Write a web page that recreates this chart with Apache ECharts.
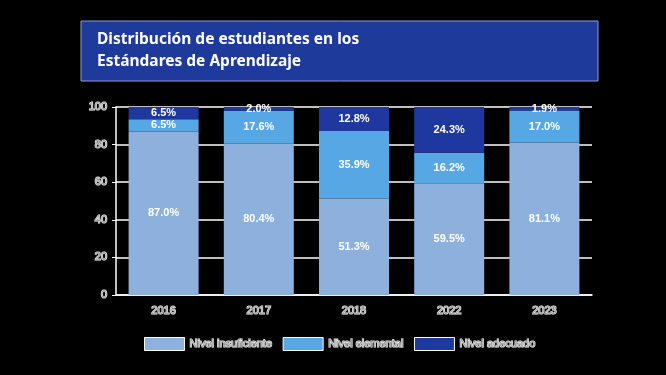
<!DOCTYPE html>
<html>
<head>
<meta charset="utf-8">
<script src="https://cdn.jsdelivr.net/npm/echarts@6/dist/echarts.min.js"></script>
<style>
  html, body { margin: 0; padding: 0; background: #000; }
  #main { width: 666px; height: 375px; }
</style>
</head>
<body>
<div id="main"></div>
<script>
var years = ['2016', '2017', '2018', '2022', '2023'];
var insuficiente = [87.0, 80.4, 51.3, 59.5, 81.1];
var elemental = [6.5, 17.6, 35.9, 16.2, 17.0];
var adecuado = [6.5, 2.0, 12.8, 24.3, 1.9];
var yTicks = [0, 20, 40, 60, 80, 100];

var myChart = echarts.init(document.getElementById('main'));

// grey text with a light halo, like the original export
var axisText = {
  color: '#9c9c9c',
  textBorderColor: '#eeeeee',
  textBorderWidth: 1.2,
  fontFamily: 'Liberation Sans',
  fontSize: 11
};

function barSeries(name, data, color) {
  return {
    name: name,
    type: 'bar',
    stack: 'total',
    barWidth: 70,
    data: data,
    itemStyle: { color: color },
    label: {
      show: true,
      position: 'inside',
      formatter: function (p) { return p.value.toFixed(1) + '%'; },
      color: '#ffffff',
      fontWeight: 'bold',
      fontSize: 11,
      fontFamily: 'Liberation Sans'
    }
  };
}

var option = {
  backgroundColor: '#000000',
  animation: false,
  graphic: [
    {
      type: 'rect',
      shape: { x: 81, y: 21, width: 517, height: 60 },
      style: { fill: '#1e3a9b', stroke: '#8f9ccc', lineWidth: 1 }
    },
    {
      type: 'text',
      left: 97, top: 29,
      style: {
        text: 'Distribución de estudiantes en los\nEstándares de Aprendizaje',
        fill: '#ffffff',
        font: 'bold 15.5px "Noto Sans"',
        lineHeight: 22
      }
    }
  ],
  legend: {
    left: 139,
    top: 332,
    icon: 'rect',
    itemWidth: 40,
    itemHeight: 13,
    itemGap: 10,
    itemStyle: { borderColor: '#ffffff', borderWidth: 1 },
    textStyle: axisText
  },
  grid: { left: 116, right: 74, top: 107, bottom: 80 },
  xAxis: {
    type: 'category',
    data: years,
    axisLine: { lineStyle: { color: '#ffffff', width: 1.5 } },
    axisTick: { show: false },
    axisLabel: Object.assign({ margin: 10 }, axisText)
  },
  yAxis: {
    type: 'value',
    min: yTicks[0],
    max: yTicks[yTicks.length - 1],
    interval: 20,
    axisLine: { show: true, lineStyle: { color: '#ffffff', width: 1.5 } },
    axisTick: { show: true, length: 4, lineStyle: { color: '#ffffff' } },
    splitLine: { lineStyle: { color: '#ffffff', width: 1.5 } },
    axisLabel: Object.assign({ margin: 9 }, axisText)
  },
  series: [
    barSeries('Nivel insuficiente', insuficiente, '#8db0dc'),
    barSeries('Nivel elemental', elemental, '#57a7e4'),
    barSeries('Nivel adecuado', adecuado, '#1e389f')
  ]
};

myChart.setOption(option);
</script>
</body>
</html>
